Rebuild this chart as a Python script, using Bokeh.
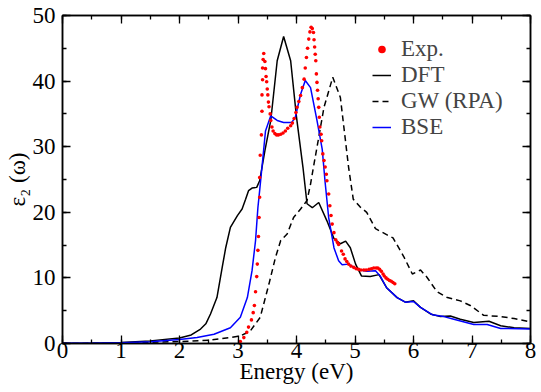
from bokeh.plotting import figure
from bokeh.models import (LinearAxis, SingleIntervalTicker, Legend, Range1d, CustomJSTickFormatter)
from bokeh.embed import file_html
from bokeh.resources import INLINE

# ---------------- data ----------------
exp_e = [3.04, 3.10, 3.15, 3.18, 3.23, 3.26, 3.28, 3.30, 3.32, 3.33, 3.34, 3.35, 3.36, 3.37,
         3.37, 3.38, 3.40, 3.41, 3.41, 3.42, 3.42, 3.43, 3.44, 3.46, 3.47, 3.48, 3.49, 3.50,
         3.51, 3.52, 3.53, 3.55, 3.56, 3.58, 3.60, 3.63, 3.66, 3.69, 3.73, 3.77, 3.81, 3.85,
         3.90, 3.93, 3.96, 3.99, 4.01, 4.04, 4.07, 4.10, 4.13, 4.15, 4.17, 4.19, 4.21, 4.23,
         4.25, 4.27, 4.29, 4.30, 4.31, 4.32, 4.33, 4.34, 4.35, 4.36, 4.37, 4.38, 4.39, 4.40,
         4.42, 4.43, 4.45, 4.47, 4.49, 4.51, 4.52, 4.55, 4.57, 4.59, 4.61, 4.64, 4.67, 4.70,
         4.72, 4.77, 4.80, 4.83, 4.86, 4.89, 4.93, 4.98, 5.02, 5.06, 5.10, 5.15, 5.19, 5.24,
         5.28, 5.32, 5.36, 5.39, 5.42, 5.45, 5.48, 5.50, 5.53, 5.56, 5.59, 5.62, 5.65, 5.68]
exp_v = [0.3, 0.9, 1.7, 2.5, 3.6, 4.7, 5.8, 7.9, 10.2, 12.1, 14.2, 16.3, 19.2, 22.3,
         25.3, 28.7, 31.8, 35.4, 37.9, 40.2, 42.0, 43.3, 44.2, 43.0, 41.9, 40.7, 39.9, 38.8,
         37.9, 36.8, 36.1, 35.0, 34.0, 33.0, 32.4, 32.0, 31.8, 31.8, 31.9, 32.1, 32.4, 32.8,
         33.2, 33.6, 34.3, 35.2, 36.0, 36.9, 37.8, 39.0, 40.3, 42.0, 43.6, 45.0, 46.4, 47.5,
         48.2, 48.0, 47.4, 46.3, 45.2, 44.1, 43.1, 41.1, 39.8, 38.6, 37.3, 36.0, 34.5, 33.0,
         31.9, 30.9, 28.9, 27.9, 26.9, 25.8, 24.8, 22.8, 21.0, 19.5, 18.2, 16.9, 15.8, 15.4,
         15.1, 14.1, 13.6, 12.9, 12.5, 12.1, 11.8, 11.6, 11.4, 11.3, 11.2, 11.2, 11.2, 11.3,
         11.4, 11.5, 11.5, 11.5, 11.3, 11.0, 10.6, 10.3, 10.0, 9.8, 9.6, 9.5, 9.3, 9.1]

dft_e = [0.0, 0.5, 1.0, 1.5, 2.0, 2.2, 2.36, 2.45, 2.53, 2.64, 2.73, 2.79, 2.87, 2.99, 3.07,
         3.13, 3.18, 3.24, 3.32, 3.37, 3.46, 3.56, 3.67, 3.78, 3.90, 4.00, 4.11, 4.18, 4.27,
         4.38, 4.52, 4.64, 4.75, 4.84, 4.92, 5.01, 5.11, 5.26, 5.41, 5.54, 5.72, 5.86, 6.00,
         6.12, 6.29, 6.46, 6.63, 6.80, 7.03, 7.29, 7.49, 7.72, 8.0]
dft_v = [0.02, 0.05, 0.15, 0.4, 0.85, 1.3, 2.2, 3.0, 4.5, 7.0, 11.6, 14.6, 17.7, 19.5, 20.5,
         22.0, 23.3, 23.7, 23.8, 24.8, 29.4, 34.0, 43.1, 46.8, 43.1, 34.5, 26.9, 21.3, 20.7,
         21.5, 18.7, 16.0, 15.2, 15.6, 14.6, 12.1, 10.3, 10.2, 10.5, 8.5, 7.0, 6.3, 6.5,
         5.5, 4.5, 4.1, 4.2, 3.7, 3.2, 3.4, 2.7, 2.4, 2.3]

gw_e = [0.0, 1.0, 2.0, 2.5, 2.87, 3.05, 3.21, 3.38, 3.53, 3.64, 3.73, 3.84, 3.95, 4.07,
        4.18, 4.24, 4.29, 4.35, 4.47, 4.62, 4.75, 4.89, 4.97, 5.09, 5.20, 5.35, 5.54, 5.65,
        5.83, 5.98, 6.12, 6.23, 6.40, 6.58, 6.80, 6.97, 7.20, 7.49, 7.72, 8.0]
gw_v = [0.0, 0.05, 0.3, 0.5, 0.9, 1.2, 1.9, 4.0, 9.1, 13.1, 15.7, 16.7, 19.2, 20.5,
        21.8, 24.3, 26.9, 29.9, 36.0, 40.6, 37.5, 26.9, 22.0, 20.8, 20.0, 17.5, 16.6, 16.1,
        13.3, 10.6, 11.2, 10.1, 7.9, 7.0, 6.5, 5.8, 4.3, 4.1, 3.8, 3.3]

bse_e = [0.0, 0.5, 1.0, 1.5, 2.0, 2.3, 2.59, 2.87, 3.04, 3.16, 3.24, 3.30, 3.34, 3.37, 3.41,
         3.47, 3.56, 3.67, 3.78, 3.92, 3.98, 4.07, 4.15, 4.24, 4.35, 4.44, 4.49, 4.55, 4.64,
         4.72, 4.78, 4.89, 4.98, 5.09, 5.20, 5.35, 5.43, 5.54, 5.72, 5.86, 6.00, 6.12, 6.32,
         6.52, 6.69, 7.03, 7.26, 7.49, 8.0]
bse_v = [0.02, 0.05, 0.1, 0.25, 0.6, 0.9, 1.4, 2.4, 4.0, 7.0, 11.1, 15.7, 20.7, 23.3, 26.9,
         32.4, 34.7, 34.0, 33.7, 33.7, 34.5, 38.0, 40.1, 39.0, 34.0, 29.6, 24.5, 19.2, 14.6,
         12.6, 12.0, 12.1, 11.6, 11.2, 11.0, 11.1, 10.3, 8.5, 7.0, 6.3, 6.4, 5.5, 4.4,
         4.1, 3.7, 2.9, 2.9, 2.3, 2.2]

x_label = "Energy (eV)"
y_label = "\u03b5\u2082 (\u03c9)"
series_names = ["Exp.", "DFT", "GW (RPA)", "BSE"]

FONT = "Liberation Serif"
FS = "23px"

p = figure(width=541, height=392, output_backend="svg", toolbar_location=None,
           x_range=Range1d(0, 8), y_range=Range1d(0, 50),
           x_axis_type=None, y_axis_type=None,
           min_border_left=62, min_border_right=11, min_border_top=15, min_border_bottom=49)
p.xgrid.visible = False
p.ygrid.visible = False
p.outline_line_color = "black"
p.outline_line_width = 1.5
p.background_fill_color = "white"
p.border_fill_color = "white"

blank = CustomJSTickFormatter(code="return '';")

bottom = LinearAxis(ticker=SingleIntervalTicker(interval=1, num_minor_ticks=2), axis_label=x_label)
left = LinearAxis(ticker=SingleIntervalTicker(interval=10, num_minor_ticks=2), axis_label=y_label)
top = LinearAxis(ticker=SingleIntervalTicker(interval=1, num_minor_ticks=2), formatter=blank)
right = LinearAxis(ticker=SingleIntervalTicker(interval=10, num_minor_ticks=2), formatter=blank)

for ax in [bottom, left, top, right]:
    ax.major_tick_in = 8
    ax.major_tick_out = 0
    ax.minor_tick_in = 4
    ax.minor_tick_out = 0
    ax.major_tick_line_width = 1.3
    ax.minor_tick_line_width = 1.3
    ax.axis_line_width = 1.5
    ax.major_label_text_font = FONT
    ax.major_label_text_font_size = FS
    ax.major_label_text_color = "black"
    ax.axis_label_text_font = FONT
    ax.axis_label_text_font_size = FS
    ax.axis_label_text_font_style = "normal"
    ax.axis_label_text_color = "black"

for ax in [top, right]:
    ax.major_label_standoff = 0

bottom.major_label_standoff = -1
bottom.axis_label_standoff = -2
left.major_label_standoff = 7
left.axis_label_standoff = 0

p.add_layout(bottom, "below")
p.add_layout(left, "left")
p.add_layout(top, "above")
p.add_layout(right, "right")

r_gw = p.line(gw_e, gw_v, line_color="black", line_width=1.5, line_dash="6 4")
r_dft = p.line(dft_e, dft_v, line_color="black", line_width=1.5)
r_bse = p.line(bse_e, bse_v, line_color="#0000ff", line_width=1.5)
r_exp = p.scatter(exp_e, exp_v, size=3.6, color="#ff0000", line_color=None)

legend = Legend(items=[(series_names[0], [r_exp]), (series_names[1], [r_dft]),
                       (series_names[2], [r_gw]), (series_names[3], [r_bse])],
                location=(310, 203), border_line_color=None, background_fill_alpha=0,
                padding=0, margin=0, spacing=-2, label_text_font=FONT, label_text_font_size=FS,
                glyph_width=19, glyph_height=22, label_height=22, label_standoff=10)
p.add_layout(legend)

open("out.html", "w").write(file_html(p, INLINE))
